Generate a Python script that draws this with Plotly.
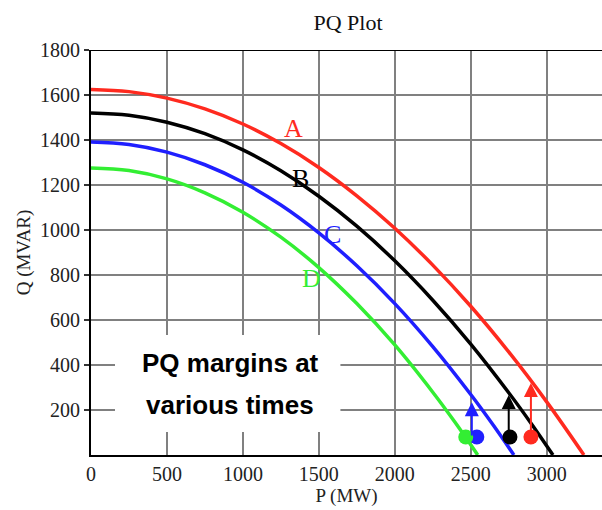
import plotly.graph_objects as go

# Curve data (P in MW, Q in MVAR)
P_A = [0, 250, 500, 750, 1000, 1250, 1500, 1750, 2000, 2250, 2500, 2750, 3000, 3245]
Q_A = [1625, 1615, 1586, 1538, 1471, 1384, 1278, 1152, 1008, 844, 661, 458, 236, 0]

P_B = [0, 250, 500, 750, 1000, 1250, 1500, 1750, 2000, 2250, 2500, 2750, 2900, 3041]
Q_B = [1520, 1510, 1479, 1428, 1356, 1263, 1150, 1017, 863, 688, 493, 277, 138, 0]

P_C = [0, 250, 500, 750, 1000, 1250, 1500, 1750, 2000, 2250, 2500, 2650, 2784]
Q_C = [1391, 1380, 1346, 1290, 1212, 1111, 987, 841, 673, 482, 269, 131, 0]

P_D = [0, 250, 500, 750, 1000, 1250, 1500, 1750, 2000, 2250, 2400, 2546]
Q_D = [1276, 1264, 1227, 1165, 1079, 968, 833, 673, 489, 279, 142, 0]

curve_names = ["A", "B", "C", "D"]
curve_colors = ["#ff2a1f", "#000000", "#1f1fff", "#33ee33"]

# Operating points (dots)
dot_P = [2896, 2758, 2540, 2467]
dot_Q = [80, 80, 80, 80]
dot_colors = ["#ff2a1f", "#000000", "#1f1fff", "#33ee33"]

# Margin arrows: base P, base Q, tip Q
arrow_P = [2896, 2750, 2507]
arrow_Q0 = [80, 80, 80]
arrow_Q1 = [320, 267, 235]
arrow_colors = ["#ff2a1f", "#000000", "#1f1fff"]

# Curve label positions
label_P = [1332, 1378, 1590, 1451]
label_Q = [1453, 1231, 982, 786]

x_ticks = [0, 500, 1000, 1500, 2000, 2500, 3000]
y_ticks = [200, 400, 600, 800, 1000, 1200, 1400, 1600, 1800]

serif = "Liberation Serif, Times New Roman, serif"
sans = "Liberation Sans, Arial, sans-serif"

fig = go.Figure()

curves = [(P_A, Q_A), (P_B, Q_B), (P_C, Q_C), (P_D, Q_D)]
for (px, qy), name, col in zip(curves, curve_names, curve_colors):
    fig.add_trace(go.Scatter(x=px, y=qy, mode="lines", name=name,
                             line=dict(color=col, width=3.5, shape="spline"),
                             showlegend=False, hoverinfo="skip"))

fig.add_trace(go.Scatter(x=dot_P, y=dot_Q, mode="markers",
                         marker=dict(color=dot_colors, size=15),
                         showlegend=False, hoverinfo="skip"))

annotations = []
for p, q0, q1, col in zip(arrow_P, arrow_Q0, arrow_Q1, arrow_colors):
    annotations.append(dict(x=p, y=q1, ax=p, ay=q0, xref="x", yref="y",
                            axref="x", ayref="y", text="", showarrow=True,
                            arrowhead=2, arrowsize=1.4, arrowwidth=2,
                            arrowcolor=col, standoff=0, startstandoff=0))

for name, p, q, col in zip(curve_names, label_P, label_Q, curve_colors):
    annotations.append(dict(x=p, y=q, xref="x", yref="y", text=name,
                            showarrow=False,
                            font=dict(family=serif, size=26, color=col)))

annotations.append(dict(x=917, y=408, xref="x", yref="y",
                        text="<b>PQ margins at</b>", showarrow=False,
                        font=dict(family=sans, size=26, color="#000000")))
annotations.append(dict(x=917, y=222, xref="x", yref="y",
                        text="<b>various times</b>", showarrow=False,
                        font=dict(family=sans, size=26, color="#000000")))

fig.update_layout(
    width=602, height=510,
    margin=dict(l=91, r=0, t=50, b=55),
    paper_bgcolor="white", plot_bgcolor="white",
    title=dict(text="PQ Plot", x=348 / 602, xanchor="center",
               y=1 - 22 / 510, yanchor="middle",
               font=dict(family=serif, size=22, color="#111111")),
    xaxis=dict(range=[0, 3364], tickvals=x_ticks,
               ticktext=[str(v) for v in x_ticks],
               showgrid=True, gridcolor="#808080", gridwidth=1.5,
               showline=True, linecolor="#000000", linewidth=2,
               zeroline=False, ticks="", ticklabelstandoff=0,
               tickfont=dict(family=serif, size=20, color="#222222"),
               title=dict(text="P (MW)", standoff=0,
                          font=dict(family=serif, size=19, color="#222222"))),
    yaxis=dict(range=[0, 1800], tickvals=y_ticks,
               ticktext=[str(v) for v in y_ticks],
               showgrid=True, gridcolor="#808080", gridwidth=1.5,
               showline=True, linecolor="#000000", linewidth=2,
               zeroline=False, ticks="outside", ticklen=5, tickwidth=1.5,
               tickcolor="#333333", ticklabelstandoff=0,
               tickfont=dict(family=serif, size=20, color="#222222"),
               title=dict(text="Q (MVAR)", standoff=4,
                          font=dict(family=serif, size=19, color="#222222"))),
    annotations=annotations,
    shapes=[
        dict(type="rect", xref="x", yref="y", x0=158, x1=1642, y0=102, y1=533,
             fillcolor="white", line=dict(width=0), layer="between"),
        dict(type="line", xref="paper", yref="y", x0=0, x1=1, y0=1800, y1=1800,
             line=dict(color="#000000", width=2), layer="above"),
    ],
)

fig.write_html("out.html")
